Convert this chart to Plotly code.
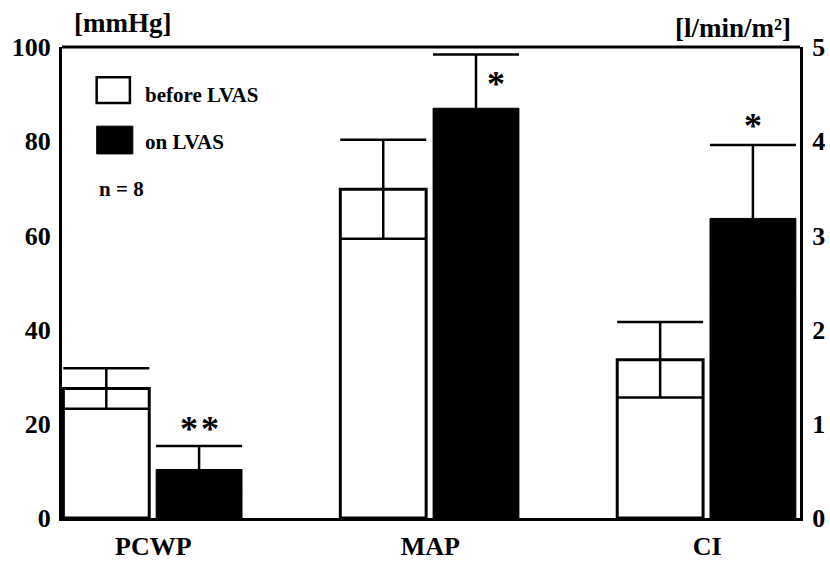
import plotly.graph_objects as go

categories = ["PCWP", "MAP", "CI"]
cat_pos = [0, 1, 2]

# PCWP and MAP in mmHg (left axis), CI in l/min/m² (right axis)
before_mean = [27.5, 69.8, 1.68]
before_sd = [4.3, 10.5, 0.40]
on_mean = [10.3, 87.0, 3.18]
on_sd = [5.0, 11.4, 0.78]

sig_labels = ["*\u200a*", "*", "*"]
sig_y = [18.8, 92.2, 4.16]  # positions of significance marks (in the bar's own units)
sig_dx = [0.0, 0.072, 0.0]

left_ticks = [0, 20, 40, 60, 80, 100]
right_ticks = [0, 1, 2, 3, 4, 5]

FONT = "Liberation Serif"
W_BAR = 0.31
OFF_BEFORE = -0.325
OFF_ON = 0.01

fig = go.Figure()

def add_bar(xs, ys, es, yaxis, fill, line_w):
    fig.add_trace(go.Bar(
        x=xs, y=ys, yaxis=yaxis,
        width=[W_BAR] * len(xs), offset=[OFF_BEFORE if fill == "white" else OFF_ON] * len(xs),
        marker=dict(color=fill, line=dict(color="black", width=line_w)),
        error_y=dict(type="data", array=es, visible=True, color="black", thickness=2.5, width=43),
        showlegend=False, hoverinfo="skip",
    ))

# mmHg measures (left axis)
add_bar(cat_pos[:2], before_mean[:2], before_sd[:2], "y", "white", 3)
add_bar(cat_pos[:2], on_mean[:2], on_sd[:2], "y", "black", 1)
# CI (right axis)
add_bar(cat_pos[2:], before_mean[2:], before_sd[2:], "y2", "white", 3)
add_bar(cat_pos[2:], on_mean[2:], on_sd[2:], "y2", "black", 1)

annotations = []
for i, (lab, yv, dx) in enumerate(zip(sig_labels, sig_y, sig_dx)):
    xc = cat_pos[i] + OFF_ON + W_BAR / 2 + dx
    annotations.append(dict(
        x=xc, y=yv, xref="x", yref="y2" if i == 2 else "y",
        text="<b>" + lab + "</b>", showarrow=False, xanchor="center", yanchor="middle",
        font=dict(family=FONT, size=36, color="black"),
    ))

# axis unit labels
annotations.append(dict(x=0.0136, y=1.05, xref="paper", yref="paper", text="<b>[mmHg]</b>",
                        showarrow=False, xanchor="left", yanchor="middle",
                        font=dict(family=FONT, size=27, color="black")))
annotations.append(dict(x=0.9905, y=1.04, xref="paper", yref="paper", text="<b>[l/min/m²]</b>",
                        showarrow=False, xanchor="right", yanchor="middle",
                        font=dict(family=FONT, size=27, color="black")))

# legend texts
annotations.append(dict(x=0.11, y=0.898, xref="paper", yref="paper", text="<b>before LVAS</b>",
                        showarrow=False, xanchor="left", yanchor="middle",
                        font=dict(family=FONT, size=21, color="black")))
annotations.append(dict(x=0.11, y=0.798, xref="paper", yref="paper", text="<b>on LVAS</b>",
                        showarrow=False, xanchor="left", yanchor="middle",
                        font=dict(family=FONT, size=21, color="black")))
annotations.append(dict(x=0.047, y=0.698, xref="paper", yref="paper", text="<b>n = 8</b>",
                        showarrow=False, xanchor="left", yanchor="middle",
                        font=dict(family=FONT, size=21, color="black")))

shapes = [
    dict(type="rect", xref="paper", yref="paper", x0=0.047, x1=0.092, y0=0.881, y1=0.936,
         line=dict(color="black", width=2.5), fillcolor="white"),
    dict(type="rect", xref="paper", yref="paper", x0=0.047, x1=0.096, y0=0.773, y1=0.832,
         line=dict(color="black", width=1), fillcolor="black"),
    # top border of the frame
    dict(type="line", xref="paper", yref="paper", x0=0, x1=1, y0=1, y1=1,
         line=dict(color="black", width=3)),
]

fig.update_layout(
    width=830, height=563,
    margin=dict(l=62, r=30, t=47, b=45),
    paper_bgcolor="white", plot_bgcolor="white",
    barmode="overlay",
    font=dict(family=FONT, color="black"),
    xaxis=dict(
        range=[-0.33, 2.335], tickmode="array", tickvals=cat_pos,
        ticktext=["<b>" + c + "</b>" for c in categories],
        tickfont=dict(family=FONT, size=26, color="black"),
        showgrid=False, zeroline=False, showline=True, linecolor="black", linewidth=3,
        ticks="", ticklabelstandoff=3, automargin=False,
    ),
    yaxis=dict(
        range=[0, 100], tickmode="array", tickvals=left_ticks,
        ticktext=["<b>%d</b>" % t for t in left_ticks],
        tickfont=dict(family=FONT, size=26, color="black"),
        showgrid=False, zeroline=False, showline=True, linecolor="black", linewidth=3,
        ticks="", ticklabelstandoff=3, automargin=False,
    ),
    yaxis2=dict(
        range=[0, 5], overlaying="y", side="right", tickmode="array", tickvals=right_ticks,
        ticktext=["<b>%d</b>" % t for t in right_ticks],
        tickfont=dict(family=FONT, size=26, color="black"),
        showgrid=False, zeroline=False, showline=True, linecolor="black", linewidth=3,
        ticks="", ticklabelstandoff=4, automargin=False,
    ),
    annotations=annotations,
    shapes=shapes,
)

fig.write_html(
    "out.html",
    config={"displayModeBar": False},
    post_script="document.body.style.margin='0';document.body.style.overflow='hidden';",
)
